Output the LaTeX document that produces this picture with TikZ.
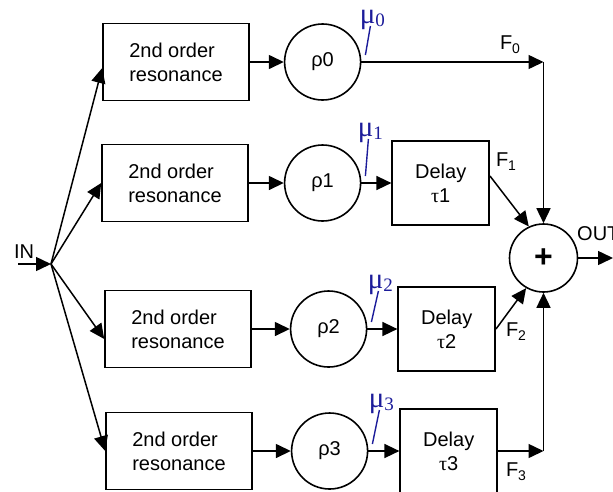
\documentclass[tikz,border=0pt]{standalone}
\usepackage{fontspec}
\setmainfont{Liberation Sans}
\newfontfamily\gainfont{Liberation Serif}
\usepackage{tikz}
\usetikzlibrary{arrows.meta,positioning}
\definecolor{gainblue}{HTML}{1C1C9A}
\newcommand{\bigtext}{\fontsize{20}{24}\selectfont}
\newcommand{\lowsub}[1]{\raisebox{-4pt}{\fontsize{14}{14}\selectfont #1}}
\newcommand{\gainsub}[1]{\raisebox{-3pt}{\fontsize{19}{19}\selectfont #1}}
\tikzset{
  resbox/.style={
    rectangle,
    draw,
    line width=1.6pt,
    minimum width=146pt,
    minimum height=77pt,
    align=left,
    font=\bigtext
  },
  gaincirc/.style={
    circle,
    draw,
    line width=1.6pt,
    minimum size=76pt,
    inner sep=0pt,
    font=\bigtext
  },
  delaybox/.style={
    rectangle,
    draw,
    line width=1.6pt,
    minimum width=97pt,
    minimum height=84pt,
    align=center,
    font=\bigtext
  },
  sumnode/.style={
    circle,
    draw,
    line width=1.6pt,
    minimum size=68pt,
    inner sep=0pt,
    font=\fontsize{32}{32}\selectfont\bfseries
  },
  arrow/.style={-{Triangle[length=15pt,width=14pt]},line width=1.5pt},
  gainLabel/.style={text=gainblue,font=\fontsize{29}{29}\selectfont\gainfont,inner sep=0pt},
  gainTick/.style={draw=gainblue,line width=1.4pt},
  sigLabel/.style={font=\bigtext,inner sep=0pt}
}
\begin{document}
\begin{tikzpicture}[x=1pt,y=-1pt]
  \useasboundingbox (0,0) rectangle (613,491);

  % resonance filters
  \node[resbox] (res0) at (176,62) {2nd order\\resonance};
  \node[resbox] (res1) at (175,183) {2nd order\\resonance};
  \node[resbox] (res2) at (178,329) {2nd order\\resonance};
  \node[resbox] (res3) at (179,451) {2nd order\\resonance};

  % gains
  \node[gaincirc, right=34pt of res0] (rho0) {ρ0};
  \node[gaincirc, right=35pt of res1] (rho1) {ρ1};
  \node[gaincirc, right=38pt of res2] (rho2) {ρ2};
  \node[gaincirc, right=38pt of res3] (rho3) {ρ3};

  % delays
  \node[delaybox, right=30pt of rho1] (delay1) {Delay\\{\gainfont τ}1};
  \node[delaybox, right=30pt of rho2] (delay2) {Delay\\{\gainfont τ}2};
  \node[delaybox, right=31pt of rho3] (delay3) {Delay\\{\gainfont τ}3};

  \node[sumnode] (sum) at (543.5,258) {+};

  \coordinate (inStart) at (18,264);
  \coordinate (fan) at (51,264);
  \coordinate (f0corner) at (sum |- rho0);
  \coordinate (f3corner) at (sum |- delay3);
  \coordinate (outEnd) at (613,258);

  \node[sigLabel] (inLabel) at (24,252) {IN};
  \node[sigLabel, anchor=west] (outLabel) at (577,234) {OUT};
  \node[sigLabel] (lblF0) at (510,45) {F\lowsub{0}};
  \node[sigLabel] (lblF1) at (506,162) {F\lowsub{1}};
  \node[sigLabel] (lblF2) at (516,332) {F\lowsub{2}};
  \node[sigLabel] (lblF3) at (516,472) {F\lowsub{3}};

  \draw[arrow] (inStart) -- (fan);
  \foreach \i/\s in {0/-6,1/0,2/-10,3/0} {
    \draw[arrow] (fan) -- ([yshift=\s pt]res\i.west);
    \draw[arrow] (res\i) -- (rho\i);
  }
  \foreach \i in {1,2,3} {
    \draw[arrow] (rho\i) -- (delay\i);
  }

  \draw[arrow] (rho0) -- (f0corner);
  \draw[arrow] (f0corner) -- (sum);
  \draw[arrow] ([yshift=7pt]delay1.east) -- (sum.115);
  \draw[arrow] (delay2.east) -- (sum.240);
  \draw[arrow] (delay3.east) -- (f3corner);
  \draw[arrow] (f3corner) -- (sum);
  \draw[arrow] (sum.east) -- (outEnd);

  % gain taps
  \foreach \i/\dx/\dy in {0/11/42,1/9/50,2/13/44,3/13/47} {
    \node[gainLabel] (gain\i) at ([shift={(\dx pt,\dy pt)}]rho\i.east) {μ\gainsub{\i}};
    \draw[gainTick] ([shift={(4pt,7pt)}]rho\i.east) -- ([shift={(-2pt,-6pt)}]gain\i.center);
  }
\end{tikzpicture}
\end{document}
